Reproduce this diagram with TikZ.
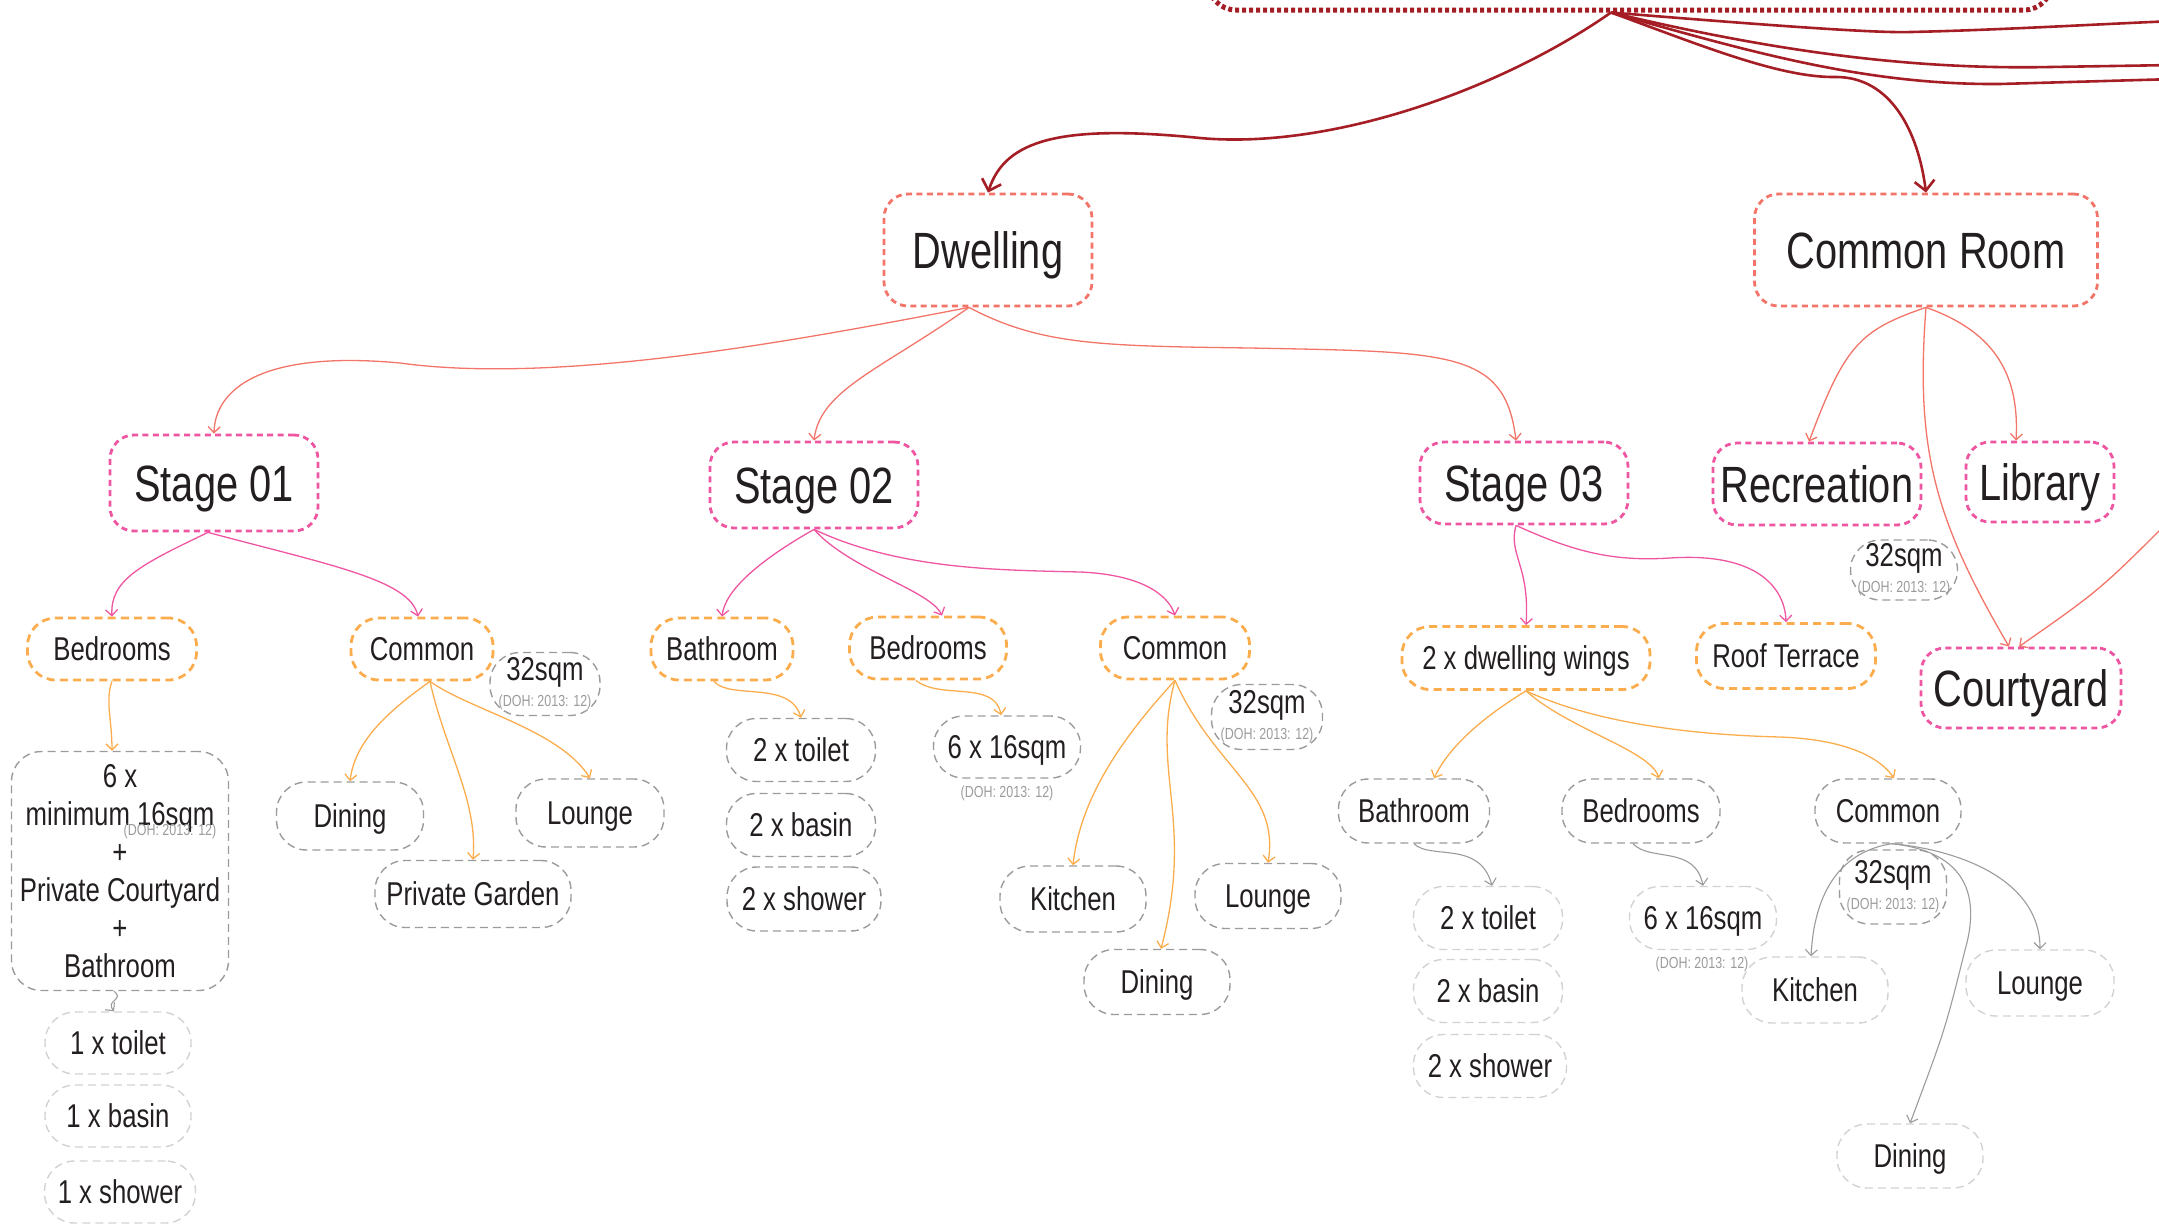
\documentclass[tikz,border=0pt]{standalone}
\usepackage{fontspec}
\setmainfont[FakeStretch=0.78]{Liberation Sans}
\usetikzlibrary{arrows.meta}

\definecolor{toprd}{HTML}{A51E25}
\definecolor{salmon}{HTML}{F37468}
\definecolor{pinkc}{HTML}{EF56A2}
\definecolor{orangec}{HTML}{FBAD4E}
\definecolor{greyc}{HTML}{9B9B9B}
\definecolor{lightc}{HTML}{D2D2D2}
\definecolor{inkc}{HTML}{231F20}

\newcommand{\dohnote}{{\color{greyc}\fontsize{8}{9}\selectfont (DOH: 2013: 12)}}

\tikzset{
  roundbox/.style={rounded corners=12pt, text=inkc, inner sep=0pt, align=center},
  topbox/.style={roundbox, draw=toprd, line width=2.5pt, dash pattern=on 2pt off 1.5pt, rounded corners=14pt},
  mainbox/.style={roundbox, draw=salmon, line width=1.4pt, dash pattern=on 3pt off 2.2pt,
    font=\fontsize{25.5}{28}\selectfont, minimum height=56pt, text height=18.3pt, text depth=0pt},
  stagebox/.style={roundbox, draw=pinkc, line width=1.4pt, dash pattern=on 3pt off 2.2pt,
    font=\fontsize{25.5}{28}\selectfont, minimum height=41pt, text height=18.3pt, text depth=0pt},
  partbox/.style={roundbox, draw=orangec, line width=1.4pt, dash pattern=on 4pt off 2.6pt,
    font=\fontsize{16.5}{19}\selectfont, minimum height=31pt, rounded corners=14pt,
    text height=11.8pt, text depth=0pt},
  itembox/.style={roundbox, draw=greyc, line width=0.7pt, dash pattern=on 4pt off 2.5pt,
    font=\fontsize{16.5}{19}\selectfont, minimum width=73.5pt, minimum height=32pt, rounded corners=15pt,
    text height=11.8pt, text depth=0pt},
  leafbox/.style={itembox, draw=lightc},
  areabox/.style={itembox, minimum width=54pt, minimum height=31pt, rounded corners=15pt,
    text height={}, text depth={}},
  doh/.style={text=greyc, font=\fontsize{8}{9}\selectfont, inner sep=0pt},
  link/.style={-{Straight Barb[length=3pt,width=6pt]}, line width=0.65pt},
  topline/.style={draw=toprd, line width=1.3pt},
  salmonline/.style={link, draw=salmon},
  pinkline/.style={link, draw=pinkc},
  orangeline/.style={link, draw=orangec},
  greyline/.style={link, draw=greyc, line width=0.55pt}
}

\begin{document}
\begin{tikzpicture}[x=0.5pt,y=-0.5pt]
  \useasboundingbox (0,0) rectangle (2159,1226);
  \clip (0,0) rectangle (2159,1226);

  % top levels
  \node[topbox, minimum width=422pt, minimum height=70pt] (top) at (1630,-60) {};
  \node[mainbox, minimum width=104pt] (dwel) at (988,250) {Dwelling};
  \node[mainbox, minimum width=171.5pt] (cr) at (1926,250) {Common Room};

  \node[stagebox, minimum width=104pt, minimum height=48pt] (st1) at (214,483) {Stage 01};
  \node[stagebox, minimum width=104pt, minimum height=43pt] (st2) at (814,485) {Stage 02};
  \node[stagebox, minimum width=104pt] (st3) at (1524,483) {Stage 03};
  \node[stagebox, minimum width=104pt] (rec) at (1817,484) {Recreation};
  \node[stagebox, minimum width=74pt, minimum height=40pt] (lib) at (2040,482) {Library};
  \node[stagebox, minimum width=100pt, minimum height=40pt] (cy) at (2021,688) {Courtyard};
  \node[areabox, minimum width=53.5pt, minimum height=30pt] (rsq) at (1904,570) {32sqm\\[-6pt]\dohnote};

  % stage 01
  \node[partbox, minimum width=84.5pt] (bed1) at (112,649) {Bedrooms};
  \node[partbox, minimum width=71pt] (com1) at (422,649) {Common};
  \node[areabox, minimum width=55pt, minimum height=31.5pt] (sq1) at (545,684) {32sqm\\[-6pt]\dohnote};
  \node[areabox, minimum width=108.5pt, minimum height=119.5pt] (six1) at (120,871)
    {6 x\\minimum 16sqm\\+\\Private Courtyard\\+\\Bathroom};
  \node[doh] (doh1) at (170,831) {(DOH: 2013: 12)};
  \node[leafbox, minimum width=73pt, minimum height=31pt] (toil1) at (118,1043) {1 x toilet};
  \node[leafbox, minimum width=73pt, minimum height=31pt] (bas1) at (118,1116) {1 x basin};
  \node[leafbox, minimum width=75.5pt, minimum height=31pt] (show1) at (120,1192) {1 x shower};
  \node[itembox, minimum height=34pt] (din1) at (350,816) {Dining};
  \node[itembox, minimum width=74pt, minimum height=34pt] (lou1) at (590,813) {Lounge};
  \node[itembox, minimum width=98pt, minimum height=33.5pt] (gar1) at (473,894) {Private Garden};

  % stage 02
  \node[partbox, minimum width=71pt] (bath2) at (722,649) {Bathroom};
  \node[partbox, minimum width=78.5pt] (bed2) at (928,648) {Bedrooms};
  \node[partbox, minimum width=74.5pt] (com2) at (1175,648) {Common};
  \node[itembox, minimum width=74.5pt, minimum height=31.5pt] (toil2) at (801,750) {2 x toilet};
  \node[itembox, minimum width=74.5pt, minimum height=31.5pt] (bas2) at (801,825) {2 x basin};
  \node[itembox, minimum width=77pt, minimum height=32pt] (show2) at (804,899) {2 x shower};
  \node[itembox, minimum height=31pt] (sx2) at (1007,747) {6 x 16sqm};
  \node[doh] (doh2) at (1007,793) {(DOH: 2013: 12)};
  \node[areabox, minimum width=55.5pt, minimum height=32.5pt] (sq2) at (1267,717) {32sqm\\[-6pt]\dohnote};
  \node[itembox, minimum width=73pt, minimum height=33pt] (kit2) at (1073,899) {Kitchen};
  \node[itembox, minimum width=73pt, minimum height=32.5pt] (lou2) at (1268,896) {Lounge};
  \node[itembox, minimum width=73pt, minimum height=32.5pt] (din2) at (1157,982) {Dining};

  % stage 03
  \node[partbox, minimum width=124pt, minimum height=31.5pt] (wing) at (1526,658) {2 x dwelling wings};
  \node[partbox, minimum width=89.5pt, minimum height=32.5pt] (roof) at (1786,656) {Roof Terrace};
  \node[itembox, minimum width=75.5pt] (bath3) at (1414,811) {Bathroom};
  \node[itembox, minimum width=79pt] (bed3) at (1641,811) {Bedrooms};
  \node[itembox, minimum width=73pt] (com3) at (1888,811) {Common};
  \node[leafbox, minimum width=74.5pt, minimum height=31.5pt] (toil3) at (1488,918) {2 x toilet};
  \node[leafbox, minimum width=74.5pt, minimum height=31.5pt] (bas3) at (1488,991) {2 x basin};
  \node[leafbox, minimum width=76.5pt, minimum height=31.5pt] (show3) at (1490,1066) {2 x shower};
  \node[leafbox, minimum height=31.5pt] (sx3) at (1703,918) {6 x 16sqm};
  \node[doh] (doh3) at (1702,964) {(DOH: 2013: 12)};
  \node[areabox, minimum width=53.5pt, minimum height=37pt] (sq3) at (1893,887) {32sqm\\[-6pt]\dohnote};
  \node[leafbox, minimum width=73pt, minimum height=33pt] (kit3) at (1815,990) {Kitchen};
  \node[leafbox, minimum width=74pt, minimum height=33pt] (lou3) at (2040,983) {Lounge};
  \node[leafbox, minimum width=73pt, minimum height=32pt] (din3) at (1910,1156) {Dining};

  % loose ends past the edge
  \coordinate (ea) at (2175,21);
  \coordinate (eb) at (2175,65);
  \coordinate (ec) at (2175,79);
  \coordinate (ed) at (2175,515);

  % from the top
  \draw[topline, -{Straight Barb[length=5pt,width=10pt]}] ([xshift=-9.5pt]top.south)
    .. controls (1500,90) and (1330,150) .. (1200,138) .. controls (1060,124) and (1005,140) .. (dwel.north);
  \draw[topline, -{Straight Barb[length=5pt,width=10pt]}] ([xshift=-9.5pt]top.south)
    .. controls (1700,45) and (1780,78) .. (1836,77) .. controls (1890,77) and (1918,130) .. (cr.north);
  \draw[topline] ([xshift=-9.5pt]top.south) .. controls (1800,28) and (1880,33) .. (1911,32)
    .. controls (2000,30) and (2100,24) .. (ea);
  \draw[topline] ([xshift=-9.5pt]top.south) .. controls (1760,48) and (1900,70) .. (2050,67) -- (eb);
  \draw[topline] ([xshift=-9.5pt]top.south) .. controls (1760,55) and (1870,85) .. (2000,84) -- (ec);

  % dwelling and common room
  \draw[salmonline] ([xshift=-9.5pt]dwel.south) .. controls (800,340) and (560,385) .. (400,363)
    .. controls (260,350) and (215,390) .. (st1.north);
  \draw[salmonline] ([xshift=-9.5pt]dwel.south) .. controls (880,370) and (820,390) .. (st2.north);
  \draw[salmonline] ([xshift=-9.5pt]dwel.south) .. controls (1040,345) and (1100,346) .. (1250,348)
    .. controls (1450,352) and (1505,350) .. ([xshift=-4pt]st3.north);
  \draw[salmonline] (cr.south) .. controls (1860,330) and (1845,345) .. ([xshift=-4pt]rec.north);
  \draw[salmonline] (cr.south) .. controls (1990,330) and (2020,370) .. ([xshift=-12pt]lib.north);
  \draw[salmonline] (cr.south) .. controls (1915,450) and (1935,520) .. ([xshift=-6pt]cy.north);
  \draw[salmonline] (ed) .. controls (2100,590) .. ([xshift=-1pt]cy.north);

  % stage 01
  \draw[pinkline] ([xshift=-3pt]st1.south) .. controls (140,565) and (110,580) .. (bed1.north);
  \draw[pinkline] ([xshift=-3pt]st1.south) .. controls (330,565) and (410,580) .. ([xshift=-2pt]com1.north);
  \draw[orangeline] (bed1.south) .. controls (105,700) and (112,720) .. ([xshift=-4pt]six1.north);
  \draw[greyline] ([xshift=-3pt]six1.south) .. controls (125,1000) and (105,1000) .. ([xshift=-2pt]toil1.north);
  \draw[orangeline] ([xshift=4pt]com1.south) .. controls (390,710) and (355,740) .. (din1.north);
  \draw[orangeline] ([xshift=4pt]com1.south) .. controls (445,750) and (478,800) .. (gar1.north);
  \draw[orangeline] ([xshift=4pt]com1.south) .. controls (470,710) and (560,730) .. (lou1.north);

  % stage 02
  \draw[pinkline] (st2.south) .. controls (760,560) and (725,590) .. (bath2.north);
  \draw[pinkline] (st2.south) .. controls (850,570) and (930,590) .. ([xshift=7pt]bed2.north);
  \draw[pinkline] (st2.south) .. controls (900,570) and (1000,570) .. (1080,572)
    .. controls (1150,575) and (1170,600) .. (com2.north);
  \draw[orangeline] ([xshift=-4pt]bath2.south) .. controls (730,700) and (790,680) .. (toil2.north);
  \draw[orangeline] ([xshift=-6pt]bed2.south) .. controls (940,700) and (995,680) .. ([xshift=-3pt]sx2.north);
  \draw[orangeline] (com2.south) .. controls (1120,740) and (1080,800) .. (kit2.north);
  \draw[orangeline] (com2.south) .. controls (1150,770) and (1195,820) .. ([xshift=2pt]din2.north);
  \draw[orangeline] (com2.south) .. controls (1215,770) and (1280,790) .. (lou2.north);

  % stage 03
  \draw[pinkline] ([xshift=-4pt]st3.south) .. controls (1508,555) and (1530,565) .. (wing.north);
  \draw[pinkline] ([xshift=-4pt]st3.south) .. controls (1570,550) and (1610,562) .. (1670,558)
    .. controls (1760,552) and (1785,590) .. (roof.north);
  \draw[orangeline] (wing.south) .. controls (1470,725) and (1445,755) .. ([xshift=10pt]bath3.north);
  \draw[orangeline] (wing.south) .. controls (1570,730) and (1650,750) .. ([xshift=9pt]bed3.north);
  \draw[orangeline] (wing.south) .. controls (1600,725) and (1700,735) .. (1780,737)
    .. controls (1860,740) and (1885,765) .. ([xshift=3pt]com3.north);
  \draw[greyline] (bath3.south) .. controls (1430,860) and (1480,840) .. ([xshift=2pt]toil3.north);
  \draw[greyline] ([xshift=-4pt]bed3.south) .. controls (1650,862) and (1695,845) .. (sx3.north);
  \draw[greyline] ([xshift=2pt]com3.south) .. controls (1850,850) and (1815,880) .. ([xshift=-2pt]kit3.north);
  \draw[greyline] ([xshift=2pt]com3.south) .. controls (1960,850) and (2040,880) .. (lou3.north);
  \draw[greyline] ([xshift=2pt]com3.south) .. controls (1950,850) and (1985,880) .. (1965,950)
    .. controls (1945,1030) .. (din3.north);
\end{tikzpicture}
\end{document}
